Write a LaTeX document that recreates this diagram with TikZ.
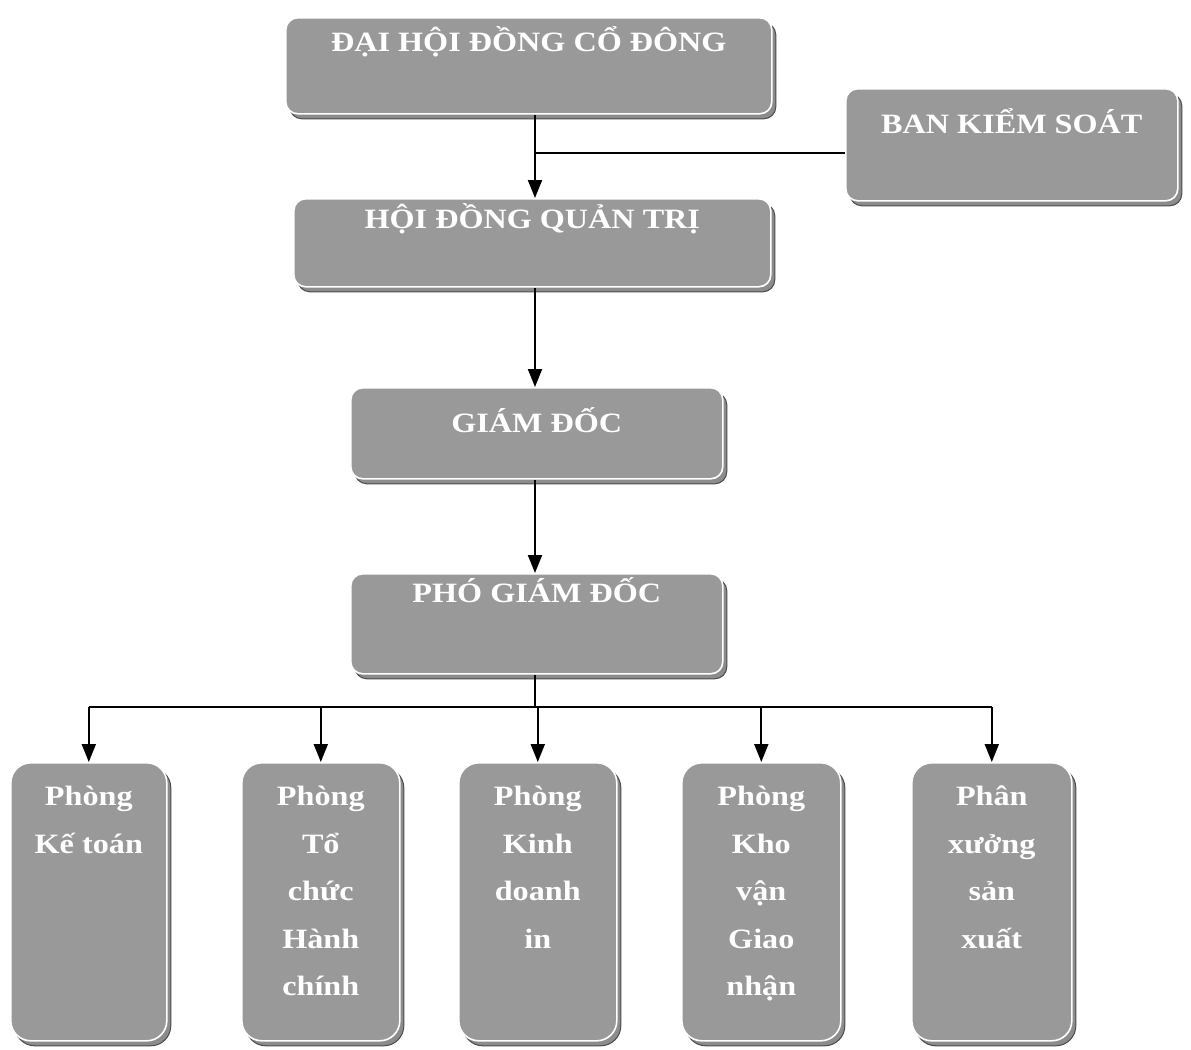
\documentclass[tikz,border=0pt]{standalone}
\usepackage{fontspec}
\newfontfamily\boxfont{Liberation Serif}[FakeStretch=1.15]
\usetikzlibrary{shadows,arrows.meta}
\definecolor{boxgray}{gray}{0.6}
\definecolor{shadowgray}{gray}{0.55}
\newcommand{\orgtext}[4]{\parbox[c][#2][t]{#1}{\centering\fontsize{14}{23.75}\selectfont\vspace*{#3}\rule{0pt}{14pt}#4\par}}
\tikzset{
  orgbox/.style={draw=white, line width=0.8pt, fill=boxgray, rounded corners=6pt,
    inner sep=0pt, anchor=north west, text=white, font=\boxfont\bfseries,
    drop shadow={shadow xshift=2pt, shadow yshift=-2.5pt, fill=shadowgray,
      draw=black!70, line width=0.5pt, opacity=1}},
  deptbox/.style={orgbox, rounded corners=10pt},
  link/.style={line width=1pt, draw=black},
  arr/.style={link, -{Triangle[length=9pt,width=7pt]}},
}
\begin{document}
\begin{tikzpicture}[x=0.5pt,y=-0.5pt]
\useasboundingbox[fill=white] (0,0) rectangle (1191,1050);
% top levels
\node[orgbox] (dh)  at (285,17)  {\orgtext{243pt}{48pt}{3pt}{ĐẠI HỘI ĐỒNG CỔ ĐÔNG}};
\node[orgbox] (bks) at (845,88)  {\orgtext{166pt}{56pt}{8.5pt}{BAN KIỂM SOÁT}};
\node[orgbox] (hd)  at (293,198) {\orgtext{238.5pt}{44pt}{1pt}{HỘI ĐỒNG QUẢN TRỊ}};
\node[orgbox] (gd)  at (350,387) {\orgtext{186pt}{45.5pt}{8.5pt}{GIÁM ĐỐC}};
\node[orgbox] (pgd) at (350,573) {\orgtext{186pt}{50pt}{0.5pt}{PHÓ GIÁM ĐỐC}};
% departments
\node[deptbox] (kt) at (10,762)  {\orgtext{78pt}{139pt}{7.5pt}{Phòng\\Kế toán}};
\node[deptbox] (tc) at (241,762) {\orgtext{79pt}{139pt}{7.5pt}{Phòng\\Tổ\\chức\\Hành\\chính}};
\node[deptbox] (kd) at (458,762) {\orgtext{79pt}{139pt}{7.5pt}{Phòng\\Kinh\\doanh\\in}};
\node[deptbox] (kv) at (681,762) {\orgtext{79.5pt}{139pt}{7.5pt}{Phòng\\Kho\\vận\\Giao\\nhận}};
\node[deptbox] (px) at (911,762) {\orgtext{80pt}{139pt}{7.5pt}{Phân\\xưởng\\sản\\xuất}};
% connectors
\coordinate (trunk) at (535,0);
\coordinate (bus) at (535,707);
\coordinate (bksin) at ([yshift=-4pt]bks.west);
\draw[arr] (dh.south -| trunk) -- (hd.north -| trunk);
\draw[link] (bksin) -- (bksin -| trunk);
\draw[arr] (hd.south -| trunk) -- (gd.north -| trunk);
\draw[arr] (gd.south -| trunk) -- (pgd.north -| trunk);
\draw[link] (pgd.south -| bus) -- (bus);
\draw[link] (bus -| kt.north) -- (bus -| px.north);
\draw[arr] (bus -| kt.north) -- (kt.north);
\draw[arr] (bus -| tc.north) -- (tc.north);
\draw[arr] (bus -| kd.north) -- (kd.north);
\draw[arr] (bus -| kv.north) -- (kv.north);
\draw[arr] (bus -| px.north) -- (px.north);
\end{tikzpicture}
\end{document}
